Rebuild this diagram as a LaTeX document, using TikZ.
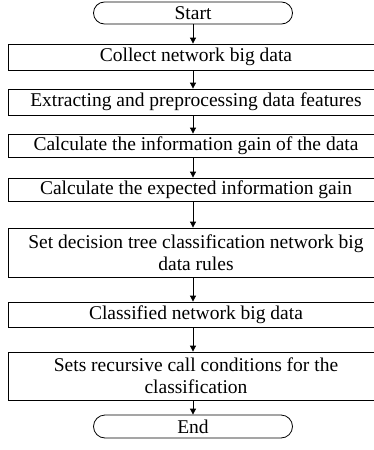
\documentclass[tikz,border=0pt]{standalone}
\usepackage{fontspec}
\setmainfont{Liberation Serif}
\usetikzlibrary{shapes.misc,arrows.meta}

\tikzset{
  stepbox/.style={draw, line width=0.8pt, minimum width=376pt, inner sep=1pt, align=center, font=\fontsize{19.5}{22}\selectfont},
  term/.style={draw, rounded rectangle, line width=0.8pt, minimum width=201pt, inner sep=1pt, font=\fontsize{19.5}{22}\selectfont},
  flow/.style={-{Triangle[length=6pt,width=6pt]}, line width=0.8pt},
}

\begin{document}
\begin{tikzpicture}[x=1pt, y=-1pt]
\useasboundingbox (0,0) rectangle (374,450);
\node[term, minimum height=22pt] (start) at (193,13) {Start};
\node[stepbox, minimum height=26pt] (collect) at (196,57) {Collect network big data};
\node[stepbox, minimum height=26pt] (extract) at (196,102) {Extracting and preprocessing data features};
\node[stepbox, minimum height=23pt] (gain) at (196,145.5) {Calculate the information gain of the data};
\node[stepbox, minimum height=23pt] (expgain) at (196,189.5) {Calculate the expected information gain};
\node[stepbox, minimum height=49pt] (rules) at (196,252.5) {Set decision tree classification network big\\data rules};
\node[stepbox, minimum height=25pt] (classify) at (196,314.5) {Classified network big data};
\node[stepbox, minimum height=48pt] (recur) at (196,376) {Sets recursive call conditions for the\\classification};
\node[term, minimum height=23pt] (end) at (193,426.5) {End};
\foreach \a/\b in {start/collect, collect/extract, extract/gain, gain/expgain, expgain/rules, rules/classify, classify/recur, recur/end}
  \draw[flow] (\a.south -| start) -- (\b.north -| start);
\end{tikzpicture}
\end{document}
